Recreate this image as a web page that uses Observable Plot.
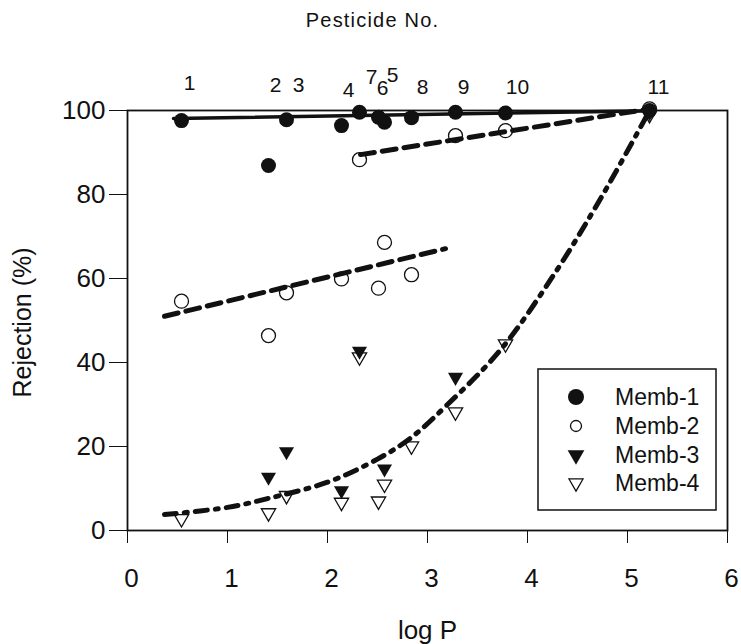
<!DOCTYPE html>
<html><head><meta charset="utf-8">
<script src="https://cdn.jsdelivr.net/npm/d3@7"></script>
<script src="https://cdn.jsdelivr.net/npm/@observablehq/plot@0.6"></script>
<style>
body{margin:0;background:#fff;font-family:"Liberation Sans",Arial,sans-serif;}
#wrap{position:relative;width:741px;height:644px;}
#legend{position:absolute;left:537px;top:368px;}
</style></head><body><div id="wrap"></div>
<script>
// Pesticides (ordered by log P)
const pesticideNo   = ["1","2","3","4","7","6","5","8","9","10","11"];
const pesticideLogP = [0.54,1.41,1.59,2.14,2.32,2.51,2.57,2.84,3.28,3.78,5.22];
const labelLogP     = [0.62,1.48,1.71,2.21,2.44,2.55,2.65,2.95,3.36,3.90,5.31];
// Rejection (%) per membrane
const memb1 = [97.6,86.9,97.8,96.4,99.6,98.4,97.2,98.3,99.6,99.4,100];
const memb2 = [54.6,46.4,56.6,59.9,88.3,57.7,68.6,60.9,94.0,95.2,100.4];
const memb3 = [null,12.7,18.8,9.5,42.7,null,14.7,null,36.5,null,99.5];
const memb4 = [2.8,4.2,8.3,6.7,41.3,7.0,11.0,20.1,28.2,44.4,99.0];
// Fitted trend lines
const fit1X = [0.46,5.15],  fit1Y = [98.1,99.9];
const fit2aX = [0.37,3.18], fit2aY = [51.0,67.1];
const fit2bX = [2.33,5.20], fit2bY = [89.5,100.3];
const fit4X = [0.37,1.0,1.4,2.0,2.5,2.83,3.2,3.73,4.28,4.73,5.21];
const fit4Y = [3.8,5.5,7.6,11.5,17.0,22.0,30.0,43.0,61.5,79.0,99.5];
const xTicks = [0,1,2,3,4,5,6];
const yTicks = [0,20,40,60,80,100];
const legendNames = ["Memb-1","Memb-2","Memb-3","Memb-4"];
// layout: vertical lift (px) of each pesticide number's centre above the frame
const labelLift = [27,25,25,20,33,22,35,23,23,23,23];

const ink = "#111";
const font = "Liberation Sans, Arial, Helvetica, sans-serif";

const liftGroups = [...new Set(labelLift)];
const numberMarks = liftGroups.map(l => {
  const idx = labelLift.map((v,i)=> v===l ? i : -1).filter(i=>i>=0);
  return Plot.text(idx, {x: i => labelLogP[i], text: i => pesticideNo[i], frameAnchor:"top", lineAnchor:"middle", dy: -l, fontSize:21, fill: ink});
});

const plot = Plot.plot({
  width: 741, height: 644,
  marginLeft: 127, marginRight: 14, marginTop: 110, marginBottom: 114,
  style: {fontFamily: font, fontSize: "26px", color: ink, background: "white", overflow: "visible"},
  x: {domain: [0,6]},
  y: {domain: [0,100]},
  marks: [
    Plot.axisX({ticks: xTicks, tickSize: 13, tickFormat: () => "", label: null, stroke: ink}),
    Plot.axisX({ticks: xTicks, tickSize: 0, tickPadding: 38, tickFormat: d3.format("d"), fontSize: 26, dx: 4, label: null}),
    Plot.axisX({ticks: [], label: "log P", labelAnchor: "center", labelArrow: "none", labelOffset: 108, fontSize: 26}),
    Plot.axisY({ticks: yTicks, tickFormat: d3.format("d"), tickSize: 18, tickPadding: 4, fontSize: 26, label: null, stroke: ink}),
    Plot.text(["Rejection (%)"], {frameAnchor: "left", textAnchor: "middle", lineAnchor: "middle", rotate: -90, dx: -105, dy: 2, fontSize: 25, fill: ink}),
    Plot.frame({stroke: ink, strokeWidth: 1.8}),
    Plot.dot(pesticideLogP, {x: d => d, y: memb1, r: 7.5, fill: ink, symbol: "circle"}),
    Plot.dot(pesticideLogP, {x: d => d, y: memb2, r: 7, stroke: ink, strokeWidth: 1.3, fill: "none", symbol: "circle"}),
    Plot.dot(pesticideLogP, {x: d => d, y: memb3, r: 5.6, fill: ink, symbol: "triangle", rotate: 180}),
    Plot.dot(pesticideLogP, {x: d => d, y: memb4, r: 5.3, stroke: ink, strokeWidth: 1.3, fill: "none", symbol: "triangle", rotate: 180}),
    Plot.line(fit1Y, {x: fit1X, y: fit1Y, stroke: ink, strokeWidth: 3.5}),
    Plot.line(fit2aY, {x: fit2aX, y: fit2aY, stroke: ink, strokeWidth: 5, strokeDasharray: "14,8"}),
    Plot.line(fit2bY, {x: fit2bX, y: fit2bY, stroke: ink, strokeWidth: 5, strokeDasharray: "14,8"}),
    Plot.line(fit4Y, {x: fit4X, y: fit4Y, stroke: ink, strokeWidth: 5, strokeDasharray: "12,8,3,8", curve: "catmull-rom"}),
    ...numberMarks,
    Plot.text(["Pesticide No."], {frameAnchor: "top", textAnchor: "middle", lineAnchor: "middle", dx: -55, dy: -90, fontSize: 20, fill: ink,
      render: (i, s, v, d, c, next) => { const g = next(i, s, v, d, c); g.setAttribute("letter-spacing", "1.2"); return g; }})
  ]
});
const wrap = document.getElementById("wrap");
wrap.appendChild(plot);

// Legend
const lw = 180, lh = 143;
const leg = d3.select(wrap).append("svg").attr("id","legend").attr("width", lw+2).attr("height", lh+2);
leg.append("rect").attr("x",1).attr("y",1).attr("width",lw-2).attr("height",lh-2).attr("fill","white").attr("stroke",ink).attr("stroke-width",1.5);
const rowY = [29,58,87,115];
const sym = [
  {type: d3.symbolCircle, r: 8, fill: ink, stroke: "none", rot: 0},
  {type: d3.symbolCircle, r: 5.5, fill: "none", stroke: ink, rot: 0},
  {type: d3.symbolTriangle, r: 6.2, fill: ink, stroke: "none", rot: 180},
  {type: d3.symbolTriangle, r: 5.2, fill: "none", stroke: ink, rot: 180}
];
legendNames.forEach((name, k) => {
  const s = sym[k];
  leg.append("path").attr("d", d3.symbol(s.type, Math.PI*s.r*s.r)())
    .attr("transform", `translate(39,${rowY[k]}) rotate(${s.rot})`)
    .attr("fill", s.fill).attr("stroke", s.stroke).attr("stroke-width", 1.3);
  leg.append("text").attr("x", 78).attr("y", rowY[k]).attr("dy","0.36em")
    .attr("font-family", font).attr("font-size", 23).attr("fill", ink).text(name);
});
</script></body></html>
